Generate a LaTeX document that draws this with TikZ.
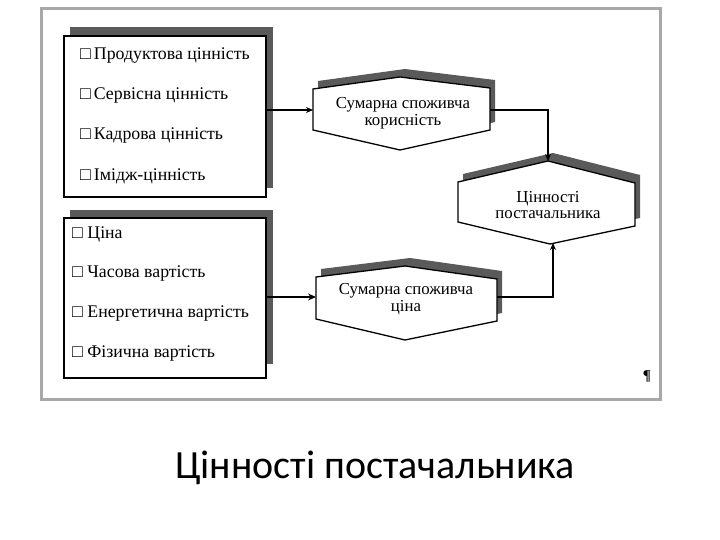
\documentclass[tikz,border=0pt]{standalone}
\usepackage{fontspec}
\setmainfont{Liberation Serif}
\newfontfamily\capfont{Carlito}
\usetikzlibrary{arrows.meta}
\definecolor{shd}{HTML}{5A5A5A}
\definecolor{framegray}{HTML}{A8A8A8}
\begin{document}
\begin{tikzpicture}[x=1pt,y=-1pt,
  listbox/.style={draw=black, line width=2pt, fill=white, anchor=north west, inner sep=0pt},
  item/.style={anchor=west, inner sep=0pt, font=\fontsize{17.8}{19}\selectfont},
  hexline/.style={draw=black, line width=1.3pt, fill=white},
  hexshadow/.style={fill=shd},
  hextext/.style={align=center, inner sep=0pt, font=\fontsize{16.8}{16.5}\selectfont},
  conn/.style={draw=black, line width=1.2pt, -{Stealth[length=7pt,width=6pt]}},
  thickconn/.style={draw=black, line width=2.2pt, -{Stealth[length=8pt,width=7pt]}}]
\useasboundingbox (0,0) rectangle (720,540);
\fill[white] (0,0) rectangle (720,540);
\draw[framegray, line width=3pt] (41.5,8.5) rectangle (660.5,399.5);

% top list box
\fill[shd] (70,27) rectangle (273,188);
\node[listbox, minimum width=202pt, minimum height=161pt] (b1) at (63,35) {};
\node[item] (i1) at (80,56) {□\,Продуктова цінність};
\node[item] (i2) at (80,96) {□\,Сервісна цінність};
\node[item] (i3) at (80,136) {□\,Кадрова цінність};
\node[item] (i4) at (80,176) {□\,Імідж-цінність};

% bottom list box
\fill[shd] (70,210) rectangle (273,364);
\node[listbox, minimum width=202pt, minimum height=160pt] (b2) at (63,217) {};
\node[item] (j1) at (72,235) {□ Ціна};
\node[item] (j2) at (72,274) {□ Часова вартість};
\node[item] (j3) at (72,314) {□ Енергетична вартість};
\node[item] (j4) at (72,354) {□ Фізична вартість};

% hexagon 1
\fill[hexshadow, shift={(5,-8)}] (313,89) -- (400,77) -- (490,88) -- (490,130) -- (400,150) -- (313,130) -- cycle;
\path[hexline] (313,89) -- (400,77) -- (490,88) -- (490,130) -- (400,150) -- (313,130) -- cycle;
\node[hextext] (h1) at (403,113) {Сумарна споживча\\корисність};
\coordinate (h1w) at (313,110);
\coordinate (h1e) at (490,110);

% hexagon 2
\fill[hexshadow, shift={(5,-8)}] (458,182) -- (548,161) -- (635,183) -- (635,226) -- (550,244) -- (458,222) -- cycle;
\path[hexline] (458,182) -- (548,161) -- (635,183) -- (635,226) -- (550,244) -- (458,222) -- cycle;
\node[hextext] (h2) at (548,205) {Цінності\\постачальника};
\coordinate (h2n) at (548,161);
\coordinate (h2s) at (553,243);

% hexagon 3
\fill[hexshadow, shift={(5,-8)}] (316,277) -- (405,266) -- (497,279) -- (497,321) -- (405,340) -- (316,319) -- cycle;
\path[hexline] (316,277) -- (405,266) -- (497,279) -- (497,321) -- (405,340) -- (316,319) -- cycle;
\node[hextext] (h3) at (406,299) {Сумарна споживча\\ціна};
\coordinate (h3w) at (316,297);
\coordinate (h3e) at (497,297);

% connectors
\coordinate (b1e) at (265,110);
\coordinate (b2e) at (265,297);
\draw[conn] (b1e) -- (h1w);
\draw[conn] (h1e) -| (h2n);
\draw[thickconn] (b2e) -- (h3w);
\draw[conn] (h3e) -| (h2s);

% pilcrow
\node[inner sep=0pt, font=\fontsize{15}{15}\selectfont\bfseries] (pil) at (647,377) {¶};

% caption
\node[inner sep=0pt, font=\capfont\fontsize{40}{44}\selectfont] (cap) at (375,468) {Цінності постачальника};
\end{tikzpicture}
\end{document}
